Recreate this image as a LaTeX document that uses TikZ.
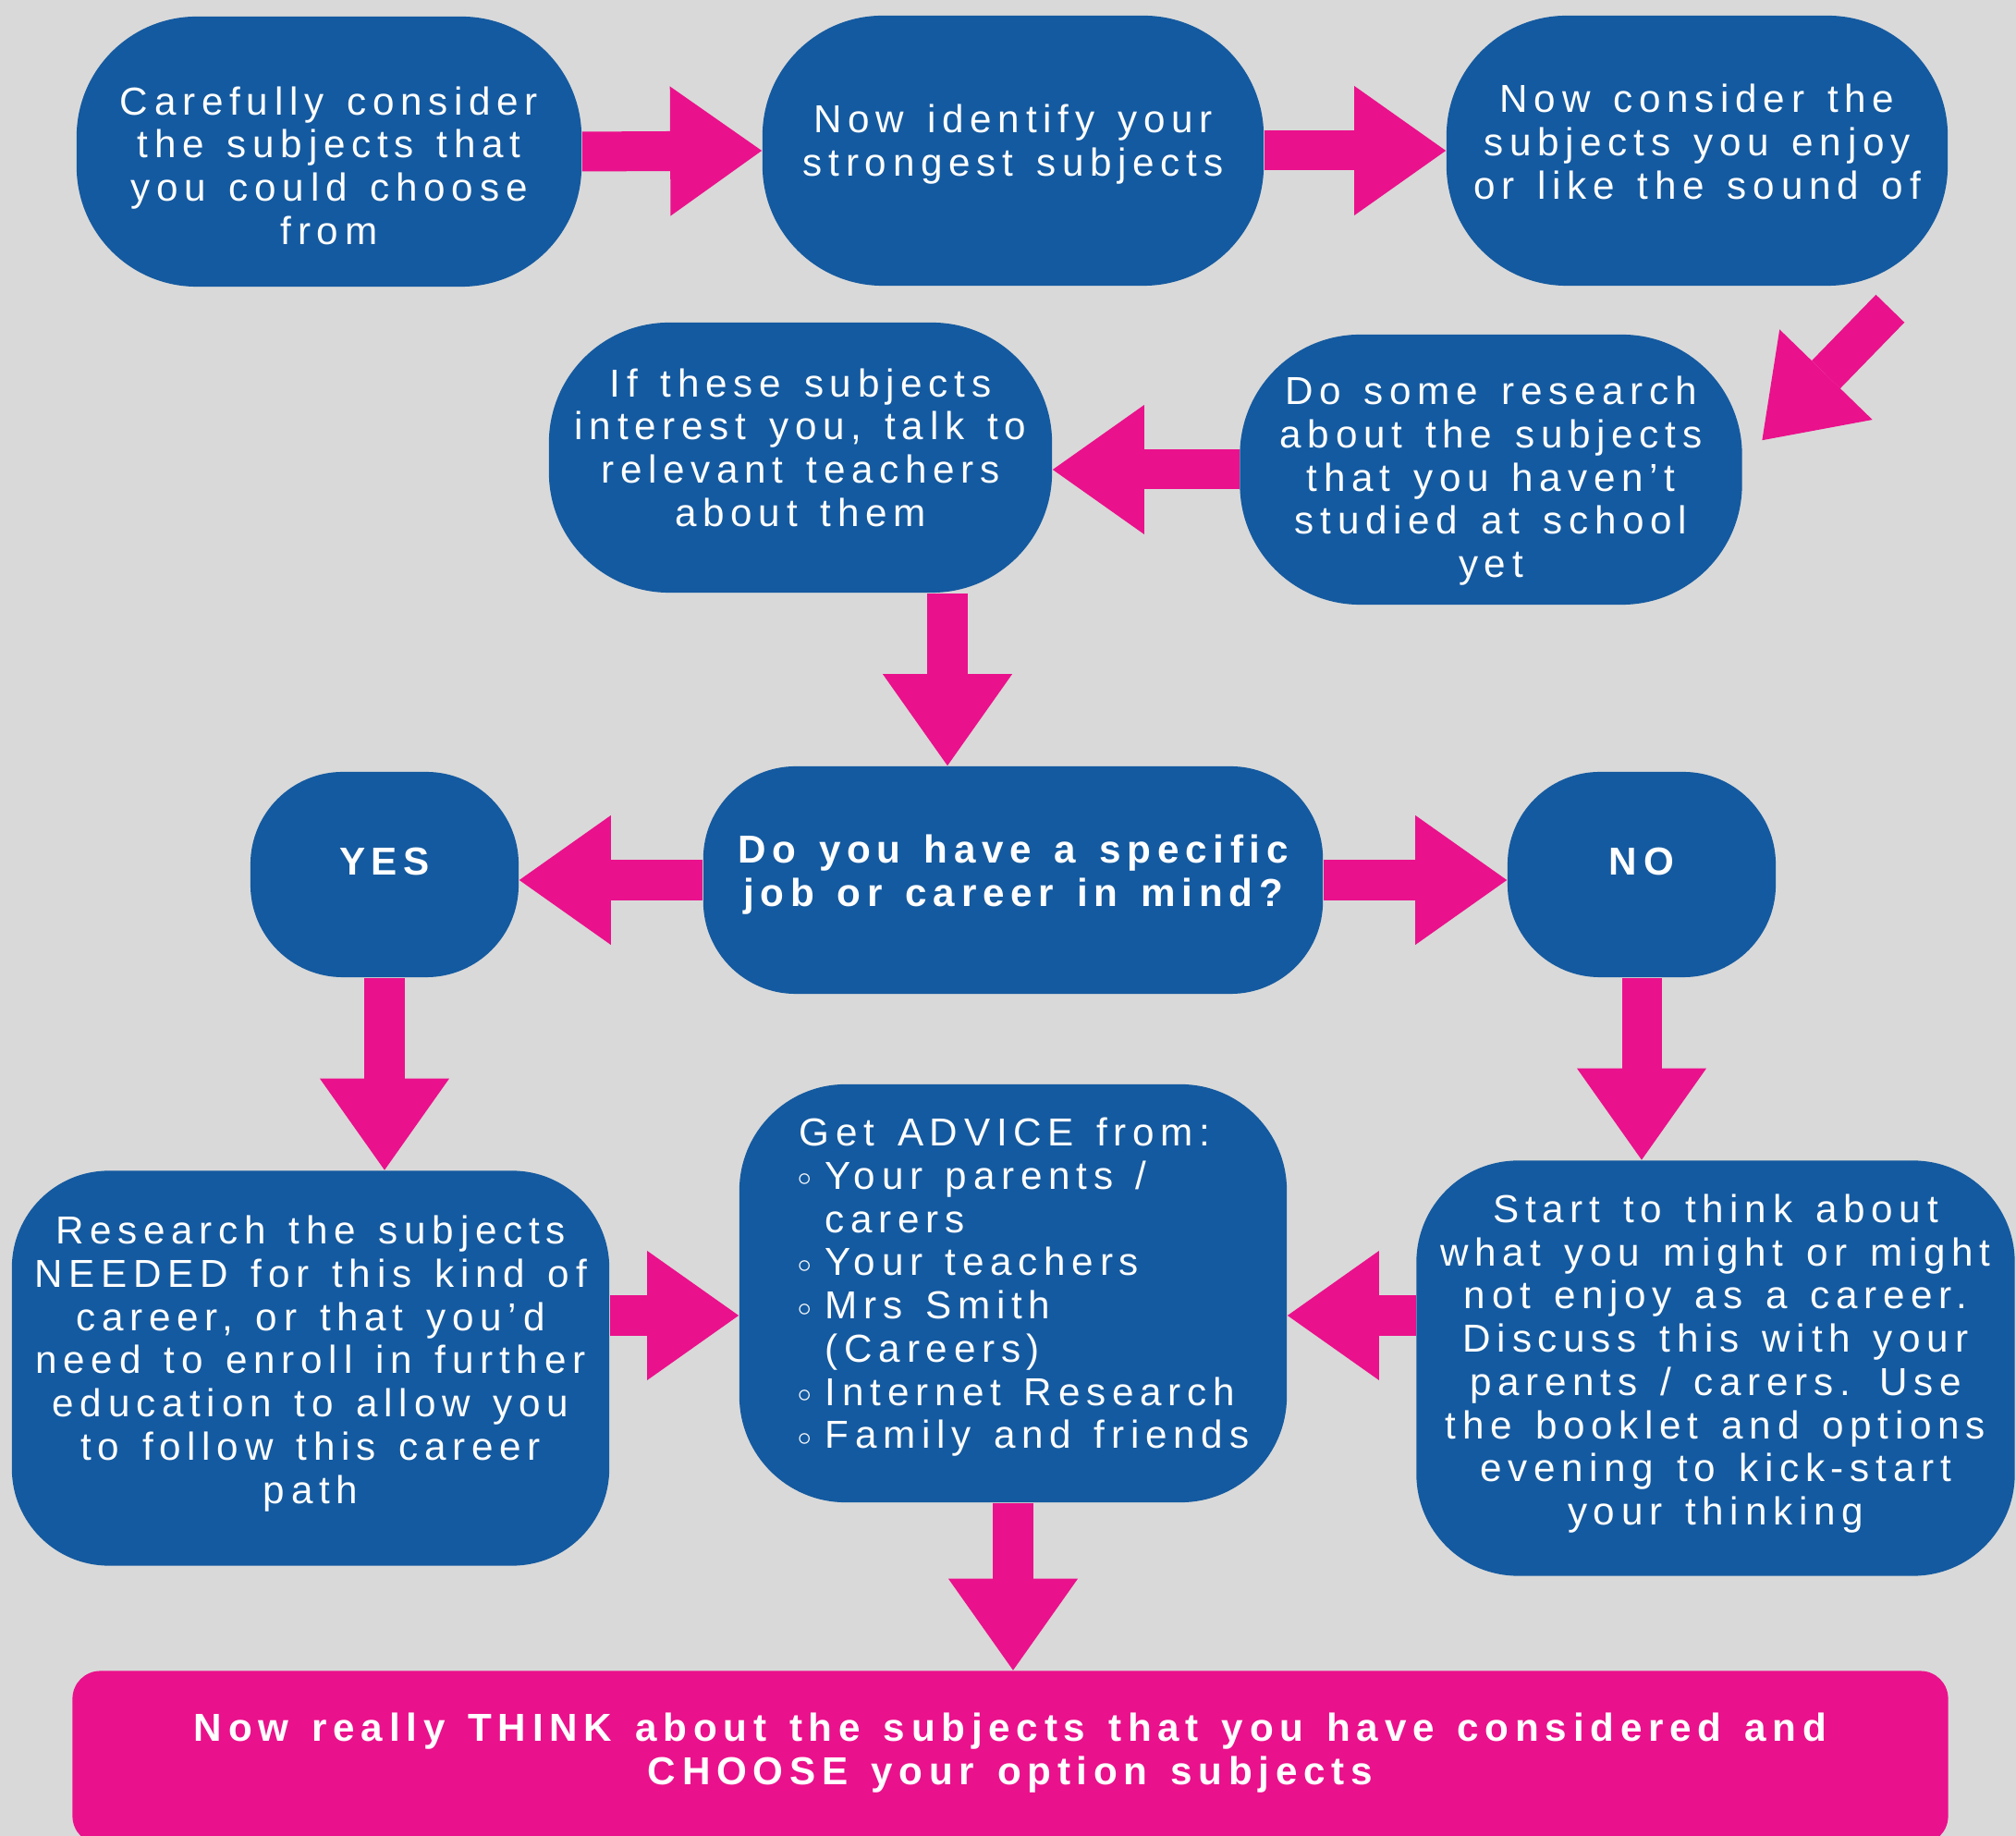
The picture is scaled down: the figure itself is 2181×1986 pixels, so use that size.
\documentclass[tikz,border=0pt]{standalone}
\usepackage{fontspec}
\setmainfont{Liberation Sans}[LetterSpace=16,WordSpace=1.35]
\usetikzlibrary{arrows.meta,calc}
\definecolor{boxblue}{RGB}{20,90,160}
\definecolor{hotpink}{RGB}{234,17,140}
\definecolor{backgr}{RGB}{217,217,217}
\newcommand{\bul}{\hspace*{0.47cm}\makebox[0.3cm][l]{\raisebox{1pt}{\fontsize{8}{8}\selectfont$\circ$}}}
\newcommand{\ind}{\hspace*{0.77cm}}
\newcommand{\lift}[1]{\\[#1]\mbox{}}
\newcommand{\sink}[1]{\mbox{}\\[#1]}
\begin{document}
\begin{tikzpicture}[x=0.01cm,y=-0.01cm,
  box/.style={fill=boxblue,text=white,rounded corners=1.3cm,inner sep=0pt,align=center,font=\fontsize{12}{13.3}\selectfont},
  fat/.style={draw=hotpink,line width=0.43cm,-{Triangle[length=0.99cm,width=1.4cm,line width=0pt]}}]
%page
\useasboundingbox (0,0) rectangle (2181,1986);
\clip (0,0) rectangle (2181,1986);
\fill[backgr] (0,0) rectangle (2181,1986);
%first row
\node[box,minimum width=5.46cm,minimum height=2.92cm] (consider) at (356,164) {\sink{4pt}Carefully consider\\the subjects that\\you could choose\\from};
\node[box,minimum width=5.42cm,minimum height=2.92cm] (strong) at (1096,163) {Now identify your\\strongest subjects\lift{-7pt}};
\node[box,minimum width=5.42cm,minimum height=2.92cm] (enjoy) at (1836,163) {Now consider the\\subjects you enjoy\\or like the sound of\lift{-7.6pt}};
%second row
\node[box,minimum width=5.43cm,minimum height=2.92cm] (research) at (1613,508) {\sink{2.3pt}Do some research\\about the subjects\\that you haven’t\\studied at school\\yet};
\node[box,minimum width=5.44cm,minimum height=2.92cm] (teachers) at (866,495) {If these subjects\\interest you, talk to\\relevant teachers\\about them\lift{-7pt}};
%question
\node[box,rounded corners=1cm,minimum width=6.7cm,minimum height=2.46cm,font=\fontsize{12}{13.3}\selectfont\bfseries] (career) at (1096,952) {Do you have a specific\\job or career in mind?\lift{-7.5pt}};
\node[box,rounded corners=1cm,minimum width=2.9cm,minimum height=2.22cm,font=\fontsize{12}{13.3}\selectfont\bfseries] (yes) at (416,946) {YES\lift{-5.3pt}};
\node[box,rounded corners=1cm,minimum width=2.9cm,minimum height=2.22cm,font=\fontsize{12}{13.3}\selectfont\bfseries] (no) at (1776,946) {NO\lift{-5.3pt}};
%third row
\node[box,rounded corners=1.05cm,minimum width=6.46cm,minimum height=4.27cm] (needed) at (336,1480) {Research the subjects\\NEEDED for this kind of\\career, or that you’d\\need to enroll in further\\education to allow you\\to follow this career\\path\lift{-8pt}};
\node[box,rounded corners=1.15cm,minimum width=5.92cm,minimum height=4.52cm,align=left,text width=5.6cm] (advice) at (1096,1399) {\spaceskip=7pt\relax\hspace*{0.49cm}Get ADVICE from:\\\bul Your parents /\\\ind carers\\\bul Your teachers\\\bul Mrs Smith\\\ind (Careers)\\\bul Internet Research\\\bul Family and friends\lift{-7pt}};
\node[box,rounded corners=1.1cm,minimum width=6.47cm,minimum height=4.49cm] (think) at (1856,1480) {Start to think about\\what you might or might\\not enjoy as a career.\\Discuss this with your\\parents / carers. Use\\the booklet and options\\evening to kick-start\\your thinking\lift{-8pt}};
%bottom
\node[box,fill=hotpink,rounded corners=0.3cm,minimum width=20.28cm,minimum height=1.87cm,font=\fontsize{12}{13.3}\selectfont\bfseries] (choose) at (1093,1901) {Now really THINK about the subjects that you have considered and\\CHOOSE your option subjects\lift{-8pt}};
%arrows
\draw[fat] (consider.east) -- (strong.west);
\draw[fat] (strong.east) -- (enjoy.west);
\draw[fat] ($(enjoy.south east)+(-63,24)$) -- ($(research.north east)+(21,115)$);
\draw[fat] (research.west) -- (research.west -| teachers.east);
\coordinate (ef) at ($(teachers.south)+(159,0)$);
\draw[fat] (ef) -- (ef |- career.north);
\draw[fat] (career.west) -- (career.west -| yes.east);
\draw[fat] (career.east) -- (career.east -| no.west);
\draw[fat] (yes.south) -- (yes.south |- needed.north);
\draw[fat] (no.south) -- (no.south |- think.north);
\coordinate (gh) at ($(needed.east)+(0,-57)$);
\coordinate (ih) at ($(think.west)+(0,-57)$);
\draw[fat] (gh) -- (gh -| advice.west);
\draw[fat] (ih) -- (ih -| advice.east);
\draw[fat] (advice.south) -- (advice.south |- choose.north);
\end{tikzpicture}
\end{document}
